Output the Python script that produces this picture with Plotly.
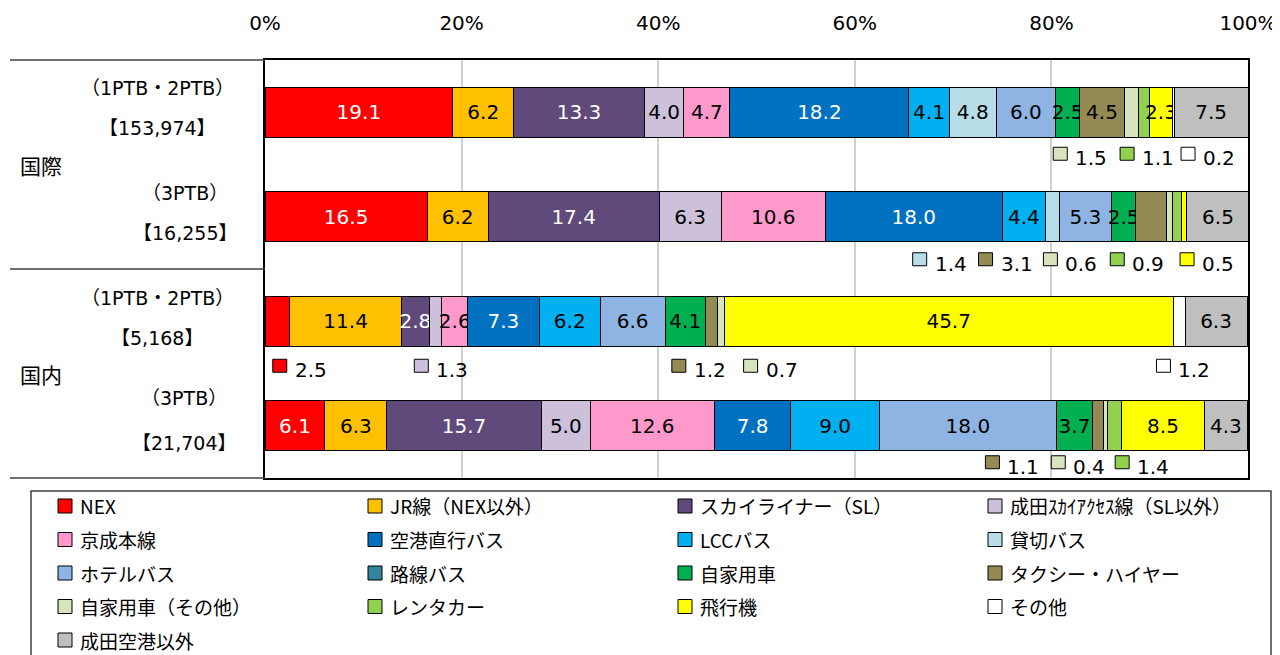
import plotly.graph_objects as go

# transport modes (stack order) and their colours
categories = ["NEX", "JR線（NEX以外）", "スカイライナー（SL）", "成田ｽｶｲｱｸｾｽ線（SL以外）",
              "京成本線", "空港直行バス", "LCCバス", "貸切バス",
              "ホテルバス", "路線バス", "自家用車", "タクシー・ハイヤー",
              "自家用車（その他）", "レンタカー", "飛行機", "その他",
              "成田空港以外"]
colors = ["#FF0000", "#FFC000", "#604A7B", "#CCC0DA",
          "#FF99CC", "#0070C0", "#00B0F0", "#B7DEE8",
          "#8EB4E3", "#31859C", "#00B050", "#948A54",
          "#D7E4BD", "#92D050", "#FFFF00", "#FFFFFF",
          "#BFBFBF"]
dark = {"NEX", "スカイライナー（SL）", "空港直行バス"}

# share (%) per row
intl_12 = [19.1, 6.2, 13.3, 4.0, 4.7, 18.2, 4.1, 4.8, 6.0, 0, 2.5, 4.5, 1.5, 1.1, 2.3, 0.2, 7.5]
intl_3 = [16.5, 6.2, 17.4, 6.3, 10.6, 18.0, 4.4, 1.4, 5.3, 0, 2.5, 3.1, 0.6, 0.9, 0.5, 0, 6.5]
dom_12 = [2.5, 11.4, 2.8, 1.3, 2.6, 7.3, 6.2, 0, 6.6, 0, 4.1, 1.2, 0.7, 0, 45.7, 1.2, 6.3]
dom_3 = [6.1, 6.3, 15.7, 5.0, 12.6, 7.8, 9.0, 0, 18.0, 0, 3.7, 1.1, 0.4, 1.4, 8.5, 0, 4.3]
rows = [intl_12, intl_3, dom_12, dom_3]

row_terminal = ["（1PTB・2PTB）", "（3PTB）", "（1PTB・2PTB）", "（3PTB）"]
row_count = ["【153,974】", "【16,255】", "【5,168】", "【21,704】"]
groups = ["国際", "国内"]
tick_vals = [0, 20, 40, 60, 80, 100]
tick_text = ["0%", "20%", "40%", "60%", "80%", "100%"]

# small values labelled under the bar: (row, category index, x position of key in %)
callouts = [(0, 12, 80.9), (0, 13, 87.7), (0, 15, 93.9),
            (1, 7, 66.6), (1, 11, 73.3), (1, 12, 79.9), (1, 13, 86.7), (1, 14, 93.8),
            (2, 0, 1.5), (2, 3, 15.9), (2, 11, 42.1), (2, 12, 49.4), (2, 15, 91.4),
            (3, 11, 74.0), (3, 12, 80.7), (3, 13, 87.2)]
callout_drop = [42, 43, 45, 37]   # px below bar centre

# page body adds an 8px margin, so the figure is shrunk by that amount
OFF = 8
W, H = 1280 - OFF, 655 - OFF
L, R, T, B = 265, 1248, 60, 478   # plot area in screen pixels
FONT = "DejaVu Sans, Noto Sans CJK JP"
JP = "Noto Sans CJK JP, DejaVu Sans"


def px(x):
    return (x - L) / (R - L)


def py(y):
    return (B - y) / (B - T)


outside = {(r, c) for r, c, _ in callouts}

fig = go.Figure()
for c, name in enumerate(categories):
    vals = [row[c] for row in rows]
    text = ["" if (r, c) in outside or v == 0 else f"{v:.1f}" for r, v in enumerate(vals)]
    fig.add_trace(go.Bar(
        y=list(range(len(rows))), x=vals, orientation="h", name=name,
        marker=dict(color=colors[c], line=dict(color="black", width=1)),
        text=text, textposition="inside", insidetextanchor="middle",
        constraintext="none", textangle=0,
        textfont=dict(family=FONT, size=20, color="white" if name in dark else "black"),
        showlegend=False, hoverinfo="skip",
    ))

shapes = []
annotations = []

# callout keys and values
for r, c, xk in callouts:
    d = callout_drop[r]
    shapes.append(dict(type="rect", xref="x", yref="y", xsizemode="pixel", ysizemode="pixel",
                       xanchor=xk, yanchor=r, x0=-7, x1=7, y0=-d - 6, y1=-d + 7,
                       fillcolor=colors[c], line=dict(color="black", width=1)))
    annotations.append(dict(xref="x", yref="y", x=xk, y=r, xanchor="left", yanchor="middle",
                            xshift=13, yshift=-d - 4, text=f"{rows[r][c]:.1f}", showarrow=False,
                            font=dict(family=FONT, size=20, color="black")))

# left-hand row labels
label_cx = [157, 185, 157, 184]
label_y = [(88, 128), (193, 233), (298, 338), (398, 443)]
for i in range(4):
    annotations.append(dict(xref="paper", yref="paper", x=px(label_cx[i]), y=py(label_y[i][0]),
                            text=row_terminal[i], showarrow=False, xanchor="center", yanchor="middle",
                            font=dict(family=FONT, size=19, color="black")))
    annotations.append(dict(xref="paper", yref="paper", x=px(label_cx[i]), y=py(label_y[i][1]),
                            text=row_count[i], showarrow=False, xanchor="center", yanchor="middle",
                            font=dict(family=FONT, size=19, color="black")))
for g, yy in zip(groups, [165, 374]):
    annotations.append(dict(xref="paper", yref="paper", x=px(18), y=py(yy), text=g,
                            showarrow=False, xanchor="left", yanchor="middle",
                            font=dict(family=JP, size=21, color="black")))
for yy in [60, 269, 478]:
    shapes.append(dict(type="line", xref="paper", yref="paper", x0=px(10), x1=0,
                       y0=py(yy), y1=py(yy), line=dict(color="#404040", width=1.5)))

# legend box, drawn by hand (4 columns, row-major)
shapes.append(dict(type="rect", xref="paper", yref="paper", x0=px(31), x1=px(1271),
                   y0=py(491), y1=py(662), line=dict(color="#404040", width=1.5),
                   fillcolor="rgba(0,0,0,0)"))
col_x = [58, 368, 678, 988]
for i, name in enumerate(categories):
    cx = col_x[i % 4]
    cy = 506 + 33.5 * (i // 4)
    shapes.append(dict(type="rect", xref="paper", yref="paper", x0=px(cx), x1=px(cx + 14),
                       y0=py(cy + 7), y1=py(cy - 7), fillcolor=colors[i],
                       line=dict(color="black", width=1)))
    annotations.append(dict(xref="paper", yref="paper", x=px(cx + 20), y=py(cy),
                            text=name, showarrow=False, xanchor="left", yanchor="middle",
                            font=dict(family=JP, size=19, color="black")))

fig.update_layout(
    barmode="stack", bargap=0.52,
    width=W, height=H,
    margin=dict(l=L - OFF, r=1280 - R, t=T - OFF, b=655 - B, pad=0),
    paper_bgcolor="white", plot_bgcolor="white",
    shapes=shapes, annotations=annotations,
    showlegend=False,
)
fig.update_xaxes(side="top", range=[0, 100], tickvals=tick_vals, ticktext=tick_text,
                 showgrid=True, gridcolor="#D0D0D0", gridwidth=1.5, zeroline=False,
                 showline=True, mirror=True, linecolor="black", linewidth=1.5,
                 ticks="", ticklabelstandoff=20, automargin=False,
                 tickfont=dict(family=FONT, size=20, color="black"))
fig.update_yaxes(range=[3.5, -0.5], showticklabels=False, showgrid=False, zeroline=False,
                 showline=True, mirror=True, linecolor="black", linewidth=1.5, ticks="",
                 automargin=False)

fig.write_html("out.html")
